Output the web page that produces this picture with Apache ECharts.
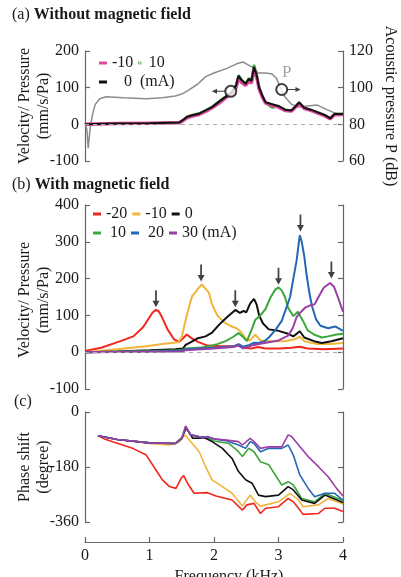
<!DOCTYPE html>
<html>
<head>
<meta charset="utf-8">
<script src="https://cdn.jsdelivr.net/npm/echarts@6/dist/echarts.min.js"></script>
<style>
  html, body { margin: 0; padding: 0; background: #fff; }
  #main { width: 401px; height: 577px; }
</style>
</head>
<body>
<div id="main"></div>
<script>
// ---- panel (a): without magnetic field ----
const pFreq = [0, 0.03, 0.05, 0.08, 0.12, 0.16, 0.23, 0.33, 0.6, 0.95, 1.2, 1.4, 1.5, 1.6, 1.75, 1.87, 2.0, 2.2, 2.35, 2.45, 2.55, 2.63, 2.68, 2.8, 2.9, 2.97, 3.03, 3.1, 3.2, 3.3, 3.45, 3.6, 3.75, 3.85, 4.0];
const pDb = [81, 77, 67, 78, 86, 91, 94, 95, 94.5, 94, 94.5, 95.5, 96.5, 98.5, 102, 106, 108, 110.5, 113, 114, 112, 110.5, 108, 108, 107.5, 105, 100, 95, 91, 89.5, 90, 90.5, 88, 86.5, 85];

const aFreq = [0, 0.5, 1.0, 1.46, 1.52, 1.58, 1.65, 1.77, 1.87, 1.97, 2.08, 2.18, 2.28, 2.34, 2.38, 2.43, 2.49, 2.54, 2.58, 2.62, 2.66, 2.7, 2.75, 2.8, 2.9, 3.0, 3.1, 3.2, 3.27, 3.32, 3.4, 3.5, 3.62, 3.72, 3.8, 3.87, 4.0];
const aMinus10 = [0, 2, 3, 4, 10, 18, 22, 27, 35, 45, 58, 72, 85, 100, 125, 114, 106, 118, 112, 150, 130, 96, 74, 58, 52, 47, 38, 36, 48, 57, 43, 38, 30, 23, 15, 26, 27];
const aPlus10 = [0, 2, 3, 5, 12, 21, 25, 30, 38, 48, 63, 76, 89, 106, 134, 121, 111, 125, 120, 162, 137, 101, 77, 58, 46, 50, 40, 37, 50, 60, 45, 39, 32, 25, 17, 28, 29];
const aZero = [0, 2, 3, 5, 12, 20, 24, 29, 38, 47, 62, 75, 88, 105, 132, 120, 110, 124, 118, 156, 135, 100, 78, 60, 55, 50, 40, 38, 50, 60, 45, 40, 32, 25, 16, 28, 28];

// markers: velocity circle (left axis) and pressure circle (right axis)
const velMark = [2.26, 90];
const presMark = [3.05, 99];

// ---- panel (b): with magnetic field ----
const bFreqR = [0, 0.25, 0.55, 0.75, 0.9, 1.0, 1.05, 1.1, 1.14, 1.18, 1.28, 1.38, 1.46, 1.52, 1.58, 1.65, 1.75, 1.9, 2.1, 2.3, 2.38, 2.45, 2.58, 2.68, 2.8, 3.0, 3.2, 3.33, 3.45, 3.7, 4.0];
const bValR = [3, 12, 30, 43, 68, 95, 108, 115, 112, 100, 62, 35, 28, 38, 48, 38, 28, 18, 16, 16, 18, 12, 10, 14, 10, 10, 12, 15, 10, 8, 10];

const bFreqY = [0, 0.5, 0.95, 1.2, 1.44, 1.5, 1.55, 1.6, 1.66, 1.71, 1.75, 1.78, 1.81, 1.85, 1.88, 1.92, 1.97, 2.05, 2.15, 2.25, 2.35, 2.42, 2.5, 2.56, 2.64, 2.72, 2.9, 3.1, 3.25, 3.33, 3.4, 3.6, 3.8, 4.0];
const bValY = [0, 8, 16, 22, 27, 40, 80, 115, 152, 162, 172, 170, 184, 176, 172, 162, 130, 100, 82, 72, 65, 55, 35, 32, 48, 32, 30, 30, 35, 42, 30, 22, 22, 25];

const bFreqK = [0, 0.5, 1.0, 1.4, 1.52, 1.56, 1.65, 1.75, 1.87, 1.97, 2.08, 2.2, 2.33, 2.4, 2.46, 2.5, 2.56, 2.62, 2.66, 2.7, 2.76, 2.85, 3.0, 3.15, 3.23, 3.33, 3.4, 3.55, 3.67, 3.82, 4.0];
const bValK = [0, 2, 5, 8, 10, 20, 28, 38, 43, 53, 75, 95, 115, 107, 112, 108, 132, 145, 130, 100, 78, 62, 58, 50, 43, 57, 40, 30, 25, 30, 38];

const bFreqG = [0, 1.0, 1.5, 1.56, 1.8, 1.92, 2.05, 2.18, 2.3, 2.38, 2.44, 2.51, 2.58, 2.64, 2.72, 2.8, 2.88, 2.95, 3.0, 3.05, 3.1, 3.15, 3.23, 3.3, 3.33, 3.38, 3.45, 3.55, 3.67, 3.77, 3.9, 4.0];
const bValG = [0, 3, 5, 10, 13, 16, 22, 30, 42, 52, 43, 30, 60, 88, 100, 118, 150, 170, 176, 168, 150, 120, 98, 110, 112, 85, 60, 48, 40, 43, 48, 50];

const bFreqB = [0, 1.0, 1.5, 1.56, 2.0, 2.3, 2.38, 2.45, 2.55, 2.62, 2.69, 2.78, 2.85, 2.95, 3.05, 3.12, 3.18, 3.23, 3.28, 3.33, 3.36, 3.4, 3.44, 3.48, 3.52, 3.58, 3.65, 3.77, 3.88, 4.0];
const bValB = [0, 2, 4, 8, 12, 16, 22, 15, 20, 26, 25, 30, 40, 60, 85, 120, 150, 200, 248, 318, 300, 260, 205, 160, 125, 90, 72, 65, 70, 58];

const bFreqP = [0, 1.5, 1.56, 2.0, 2.3, 2.38, 2.45, 2.58, 2.7, 2.85, 3.0, 3.15, 3.22, 3.28, 3.35, 3.42, 3.5, 3.56, 3.62, 3.7, 3.8, 3.86, 3.92, 3.96, 4.0];
const bValP = [0, 2, 5, 10, 14, 18, 10, 18, 22, 27, 32, 45, 65, 95, 110, 122, 128, 130, 150, 175, 188, 178, 150, 130, 110];

// resonance arrows (tip position)
const arrowFreq = [1.1, 1.8, 2.33, 3.0, 3.34, 3.82];
const arrowTip = [122, 192, 122, 183, 328, 200];

// ---- panel (c): phase shift ----
const cFreqR = [0.2, 0.3, 0.5, 0.74, 0.95, 1.1, 1.2, 1.31, 1.41, 1.49, 1.53, 1.59, 1.69, 1.9, 2.03, 2.28, 2.44, 2.51, 2.62, 2.72, 2.8, 3.0, 3.15, 3.23, 3.31, 3.38, 3.62, 3.72, 3.87, 4.0];
const cValR = [-78, -88, -102, -119, -141, -190, -222, -244, -250, -217, -208, -233, -266, -264, -275, -288, -321, -304, -299, -332, -315, -310, -283, -294, -315, -335, -332, -315, -315, -326];

const cFreqY = [0.2, 0.5, 1.0, 1.3, 1.45, 1.55, 1.65, 1.77, 1.87, 1.97, 2.13, 2.28, 2.44, 2.56, 2.64, 2.72, 3.0, 3.18, 3.31, 3.38, 3.62, 3.77, 4.0];
const cValY = [-78, -90, -103, -108, -100, -75, -100, -130, -179, -222, -244, -266, -308, -272, -294, -308, -294, -266, -288, -310, -304, -283, -301];

const cFreqK = [0.2, 0.5, 1.0, 1.4, 1.5, 1.57, 1.67, 1.87, 1.97, 2.13, 2.28, 2.38, 2.49, 2.59, 2.69, 2.8, 3.0, 3.15, 3.23, 3.36, 3.56, 3.72, 4.0];
const cValK = [-78, -90, -101, -103, -85, -52, -86, -86, -97, -119, -152, -195, -222, -233, -272, -277, -272, -244, -255, -288, -299, -272, -296];

const cFreqG = [0.2, 0.5, 1.0, 1.4, 1.5, 1.56, 1.64, 1.77, 1.9, 2.0, 2.23, 2.38, 2.44, 2.54, 2.62, 2.72, 2.85, 2.95, 3.05, 3.15, 3.23, 3.36, 3.56, 3.72, 4.0];
const cValG = [-78, -90, -101, -103, -88, -50, -76, -83, -85, -95, -103, -130, -146, -119, -130, -163, -173, -206, -239, -228, -239, -283, -294, -266, -290];

const cFreqB = [0.2, 0.5, 1.0, 1.4, 1.5, 1.56, 1.64, 1.77, 1.9, 2.0, 2.2, 2.38, 2.49, 2.56, 2.62, 2.72, 2.85, 3.05, 3.15, 3.23, 3.33, 3.46, 3.56, 3.72, 3.87, 4.0];
const cValB = [-78, -90, -101, -103, -88, -48, -74, -80, -82, -88, -95, -108, -119, -97, -103, -130, -119, -119, -108, -141, -206, -250, -277, -266, -266, -288];

const cFreqP = [0.2, 0.5, 1.0, 1.4, 1.5, 1.56, 1.64, 1.77, 1.82, 1.9, 2.0, 2.2, 2.38, 2.44, 2.56, 2.62, 2.72, 2.85, 3.05, 3.15, 3.2, 3.31, 3.46, 3.62, 3.77, 3.9, 4.0];
const cValP = [-78, -90, -101, -103, -86, -46, -75, -81, -86, -80, -88, -92, -97, -108, -86, -97, -119, -114, -114, -75, -79, -108, -146, -179, -212, -250, -275];

const zip = (xs, ys) => xs.map((x, i) => [x, ys[i]]);

const FONT = '"Liberation Serif", "DejaVu Serif", serif';
const AXIS = '#666';
const TXT = '#1a1a1a';
const COL = { red: '#f2261c', yel: '#f1b53b', blk: '#111111', grn: '#3ca83c', blu: '#2368b6', pur: '#9a3fa6', mag: '#e04a9e', gry: '#8c8c8c' };

// display names (series names must be unique between panels)
const showName = {
  'a-10': '-10', 'a10': '10', 'a0': '   0  (mA)',
  'b-20': '-20', 'b-10': '-10', 'b0': '0', 'b10': ' 10', 'b20': ' 20', 'b30': '30 (mA)'
};

function yAx(grid, min, max, interval, opts) {
  return Object.assign({
    type: 'value', gridIndex: grid, min: min, max: max, interval: interval,
    axisLine: { show: true, lineStyle: { color: AXIS, width: 1.2 } },
    axisTick: { show: true, inside: true, length: 5, lineStyle: { color: AXIS, width: 1.2 } },
    axisLabel: { color: TXT, fontFamily: FONT, fontSize: 16, margin: 6 },
    splitLine: { show: false },
    nameLocation: 'middle', nameMoveOverlap: false,
    nameTextStyle: { color: TXT, fontFamily: FONT, fontSize: 16, lineHeight: 19 }
  }, opts || {});
}

function xAx(grid, show) {
  return {
    type: 'value', gridIndex: grid, min: 0, max: 4, interval: 1, show: show,
    position: 'bottom', offset: show ? 20 : 0,
    axisLine: { show: true, onZero: false, lineStyle: { color: AXIS, width: 1.2 } },
    axisTick: { show: true, inside: true, length: 5, lineStyle: { color: AXIS, width: 1.2 } },
    axisLabel: { color: TXT, fontFamily: FONT, fontSize: 16, margin: 6 },
    splitLine: { show: false },
    name: 'Frequency (kHz)', nameLocation: 'middle', nameGap: 27, nameMoveOverlap: false,
    nameTextStyle: { color: TXT, fontFamily: FONT, fontSize: 16, padding: [0, 0, 0, 30] }
  };
}

function line(name, xi, yi, data, color, width, extra) {
  return Object.assign({
    name: name, type: 'line', xAxisIndex: xi, yAxisIndex: yi,
    data: data, showSymbol: false, symbol: 'none', silent: true, animation: false,
    itemStyle: { color: color },
    lineStyle: { color: color, width: width }
  }, extra || {});
}

const zeroLine = {
  silent: true, symbol: 'none', label: { show: false },
  lineStyle: { color: '#aaa', type: [4, 4], width: 1 },
  data: [{ yAxis: 0 }]
};

const arrowDown = 'path://M3,0 L5,0 L5,11 L8,11 L4,18 L0,11 L3,11 Z';
const arrowLeft = 'path://M0,3 L6,0 L6,2.4 L16,2.4 L16,3.6 L6,3.6 L6,6 Z';
const arrowRight = 'path://M16,3 L10,0 L10,2.4 L0,2.4 L0,3.6 L10,3.6 L10,6 Z';

const legendBase = {
  padding: 0, itemWidth: 8, itemHeight: 3, itemGap: 5,
  textStyle: { color: TXT, fontFamily: FONT, fontSize: 16 },
  formatter: n => showName[n], selectedMode: false
};

const gridBase = { left: 85, width: 258, outerBoundsMode: 'none', containLabel: false };

const option = {
  animation: false,
  backgroundColor: '#fff',
  title: [
    { text: '{n|(a) }{b|Without magnetic field}', left: 12, top: 7 },
    { text: '{n|(b) }{b|With magnetic field}', left: 12, top: 177 },
    { text: '{n|(c)}', left: 14, top: 394 }
  ].map(t => Object.assign(t, {
    padding: 0,
    textStyle: { rich: {
      n: { fontFamily: FONT, fontSize: 16, color: TXT, fontWeight: 'normal' },
      b: { fontFamily: FONT, fontSize: 16, color: TXT, fontWeight: 'bold' }
    } }
  })),
  legend: [
    Object.assign({}, legendBase, { left: 99, top: 55, itemGap: 5, data: [
      { name: 'a-10', icon: 'rect' },
      { name: 'a10', icon: 'path://M0,0 H2 V6 H0 Z M4,0 H6 V6 H4 Z', itemStyle: { color: COL.grn } }
    ] }),
    Object.assign({}, legendBase, { left: 99, top: 74, data: [{ name: 'a0', icon: 'rect' }] }),
    Object.assign({}, legendBase, { left: 93, top: 206, data: ['b-20', 'b-10', 'b0'].map(n => ({ name: n, icon: 'rect' })) }),
    Object.assign({}, legendBase, { left: 93, top: 225, data: ['b10', 'b20', 'b30'].map(n => ({ name: n, icon: 'rect' })) })
  ],
  grid: [
    Object.assign({ top: 51, height: 110 }, gridBase),
    Object.assign({ top: 205, height: 184 }, gridBase),
    Object.assign({ top: 412, height: 110 }, gridBase)
  ],
  xAxis: [xAx(0, false), xAx(1, false), xAx(2, true)],
  yAxis: [
    yAx(0, -100, 200, 100, { name: 'Velocity/ Pressure\n(mm/s/Pa)', nameGap: 32 }),
    yAx(0, 60, 120, 20, { position: 'right', name: 'Acoustic pressure P (dB)', nameRotate: -90, nameGap: 38 }),
    yAx(1, -100, 400, 100, { name: 'Velocity/ Pressure\n(mm/s/Pa)', nameGap: 32,
      nameTextStyle: { color: TXT, fontFamily: FONT, fontSize: 16, lineHeight: 19, padding: [0, 6, 0, 0] } }),
    yAx(1, -100, 400, 100, { position: 'right', axisLabel: { show: false } }),
    yAx(2, -360, 0, 180, { name: 'Phase shift\n(degree)', nameGap: 32 }),
    yAx(2, -360, 0, 180, { position: 'right', axisLabel: { show: false } })
  ],
  series: [
    // (a)
    line('aP', 0, 1, zip(pFreq, pDb), COL.gry, 1.5),
    line('a10', 0, 0, zip(aFreq, aPlus10), COL.grn, 2.5, { markLine: zeroLine }),
    line('a-10', 0, 0, zip(aFreq, aMinus10), COL.mag, 3.5),
    line('a0', 0, 0, zip(aFreq, aZero), COL.blk, 2),
    { type: 'scatter', xAxisIndex: 0, yAxisIndex: 0, silent: true, data: [velMark],
      symbol: 'emptyCircle', symbolSize: 11, itemStyle: { color: '#111', borderColor: '#111', borderWidth: 1.2 }, z: 5 },
    { type: 'scatter', xAxisIndex: 0, yAxisIndex: 0, silent: true, data: [velMark],
      symbol: arrowLeft, symbolSize: [14, 5], symbolOffset: [-12, 0], itemStyle: { color: '#111' }, z: 5 },
    { type: 'scatter', xAxisIndex: 0, yAxisIndex: 1, silent: true, data: [presMark],
      symbol: 'emptyCircle', symbolSize: 11, itemStyle: { color: '#111', borderColor: '#111', borderWidth: 1.2 }, z: 5,
      label: { show: true, formatter: 'P', position: 'top', offset: [5, 3], color: COL.gry, fontFamily: FONT, fontSize: 17 } },
    { type: 'scatter', xAxisIndex: 0, yAxisIndex: 1, silent: true, data: [presMark],
      symbol: arrowRight, symbolSize: [14, 5], symbolOffset: [12, 0], itemStyle: { color: '#111' }, z: 5 },
    // (b)
    line('b-20', 1, 2, zip(bFreqR, bValR), COL.red, 2, { markLine: zeroLine }),
    line('b-10', 1, 2, zip(bFreqY, bValY), COL.yel, 2),
    line('b0', 1, 2, zip(bFreqK, bValK), COL.blk, 2),
    line('b10', 1, 2, zip(bFreqG, bValG), COL.grn, 2),
    line('b20', 1, 2, zip(bFreqB, bValB), COL.blu, 2),
    line('b30', 1, 2, zip(bFreqP, bValP), COL.pur, 2),
    { type: 'scatter', xAxisIndex: 1, yAxisIndex: 2, silent: true, data: zip(arrowFreq, arrowTip),
      symbol: arrowDown, symbolSize: [7, 17], symbolOffset: [0, '-50%'], itemStyle: { color: '#111' }, z: 5 },
    // (c)
    line('c-20', 2, 4, zip(cFreqR, cValR), COL.red, 1.6),
    line('c-10', 2, 4, zip(cFreqY, cValY), COL.yel, 1.6),
    line('c10', 2, 4, zip(cFreqG, cValG), COL.grn, 1.6),
    line('c0', 2, 4, zip(cFreqK, cValK), COL.blk, 1.6),
    line('c20', 2, 4, zip(cFreqB, cValB), COL.blu, 1.6),
    line('c30', 2, 4, zip(cFreqP, cValP), COL.pur, 1.6)
  ]
};

const chart = echarts.init(document.getElementById('main'), null, { renderer: 'canvas' });
chart.setOption(option);
</script>
</body>
</html>
